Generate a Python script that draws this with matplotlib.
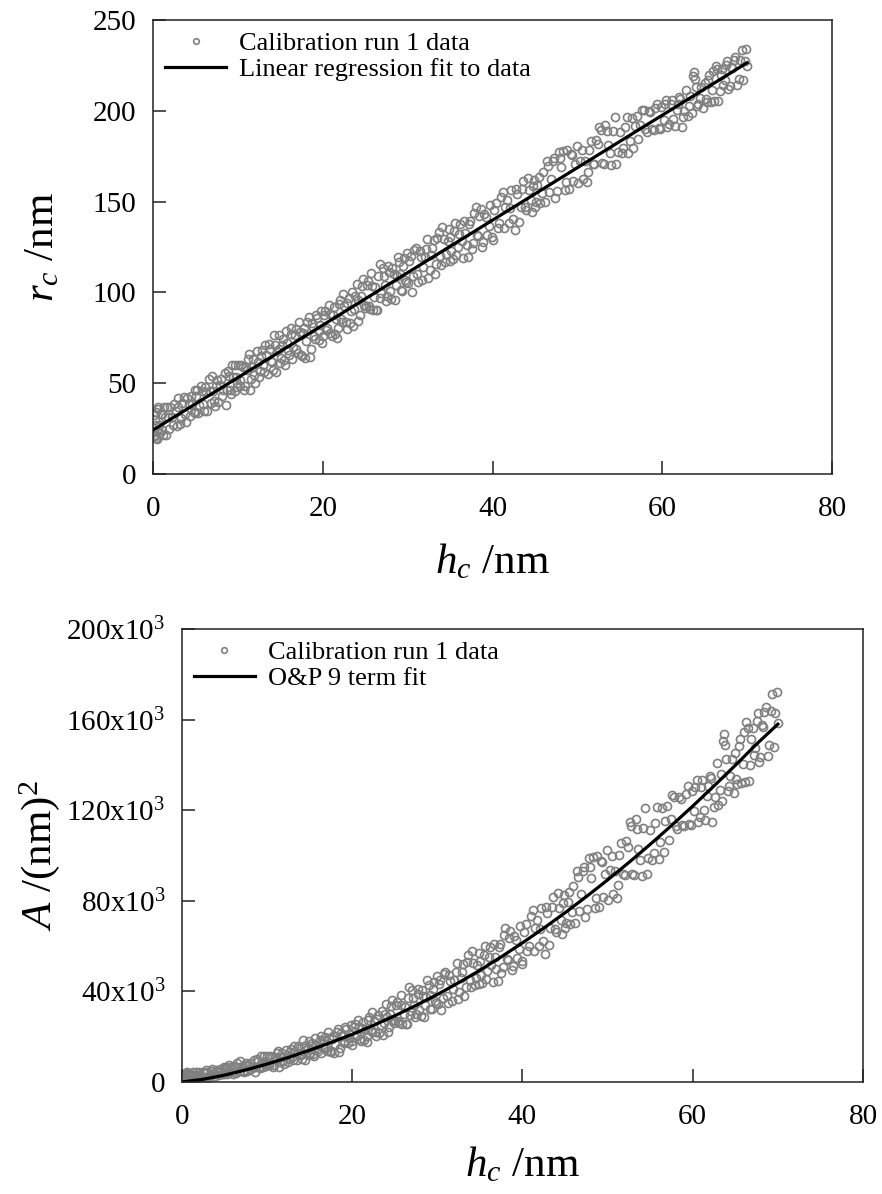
"""Calibration run 1: contact radius and contact area against contact depth."""

import matplotlib

matplotlib.use("Agg")
import matplotlib.pyplot as plt
import numpy as np

# contact depth h_c (nm) and contact radius r_c (nm)
h_c = [
    0.1, 0.2, 0.3, 0.4, 0.5, 0.6, 0.8, 1.0, 1.2, 1.4, 1.7, 1.9, 2.2, 2.5, 2.8, 3.0, 3.3, 3.6, 3.9, 4.2, 4.5, 4.8,
    5.1, 5.3, 5.6, 5.9, 6.1, 6.4, 6.7, 6.9, 7.2, 7.4, 7.7, 8.0, 8.3, 8.6, 8.8, 9.1, 9.3, 9.6, 9.8, 9.95,
    10.2, 10.4, 10.7, 10.9, 11.2, 11.4, 11.7, 11.9, 12.2, 12.5, 12.7, 13.0, 13.2, 13.5, 13.8, 14.0, 14.3, 14.5, 14.8, 14.95,
    15.2, 15.4, 15.7, 15.9, 16.2, 16.4, 16.7, 16.9, 17.2, 17.4, 17.7, 17.9, 18.2, 18.5, 18.7, 19.0, 19.2, 19.5, 19.7, 19.95,
    20.2, 20.4, 20.7, 20.9, 21.2, 21.4, 21.7, 21.9, 22.2, 22.4, 22.7, 22.9, 23.2, 23.5, 23.7, 24.0, 24.2, 24.5, 24.7, 24.95,
    25.2, 25.4, 25.7, 25.9, 26.2, 26.4, 26.7, 26.9, 27.2, 27.4, 27.7, 27.9, 28.2, 28.5, 28.7, 29.0, 29.2, 29.5, 29.7, 29.95,
    30.2, 30.5, 30.8, 31.1, 31.4, 31.7, 32.0, 32.3, 32.6, 32.9, 33.2, 33.5, 33.8, 34.1, 34.4, 34.7,
    35.0, 35.3, 35.6, 35.9, 36.2, 36.5, 36.8, 37.1, 37.4, 37.7, 38.0, 38.3, 38.6, 38.9, 39.2, 39.6,
    40.0, 40.4, 40.8, 41.2, 41.5, 41.9, 42.2, 42.6, 42.9, 43.3, 43.6, 44.0, 44.3, 44.7, 44.9,
    45.3, 45.6, 46.0, 46.4, 46.7, 47.1, 47.4, 47.8, 48.1, 48.5, 48.8, 49.2, 49.5, 49.9,
    50.3, 50.7, 51.1, 51.4, 51.8, 52.2, 52.6, 52.9, 53.3, 53.6, 54.0, 54.4, 54.8,
    55.2, 55.6, 56.0, 56.4, 56.8, 57.2, 57.6, 58.0, 58.4, 58.8, 59.2, 59.6, 59.9,
    60.3, 60.6, 61.0, 61.3, 61.7, 62.0, 62.3, 62.6, 63.0, 63.3, 63.6, 63.8, 64.1, 64.4, 64.8,
    65.1, 65.4, 65.7, 66.0, 66.3, 66.6, 66.9, 67.2, 67.5, 67.8, 68.1, 68.4, 68.8, 69.2, 69.5, 69.85, 70.0,
    # second sweep of the band
    0.15, 0.25, 0.35, 0.45, 0.55, 0.7, 0.9, 1.1, 1.3, 1.55, 1.8, 2.05, 2.35, 2.65, 2.9, 3.15, 3.45, 3.75, 4.05, 4.35, 4.65, 4.95,
    5.0, 5.2, 5.45, 5.75, 6.0, 6.25, 6.55, 6.8, 7.05, 7.3, 7.55, 7.85, 8.15, 8.45, 8.7, 8.95, 9.2, 9.45, 9.7, 9.9,
    10.05, 10.3, 10.55, 10.8, 11.05, 11.3, 11.55, 11.8, 12.05, 12.35, 12.6, 12.85, 13.1, 13.35, 13.65, 13.9, 14.15, 14.4, 14.65, 14.9,
    15.05, 15.3, 15.55, 15.8, 16.05, 16.3, 16.55, 16.8, 17.05, 17.3, 17.55, 17.8, 18.05, 18.35, 18.6, 18.85, 19.1, 19.35, 19.6, 19.85,
    20.05, 20.3, 20.55, 20.8, 21.05, 21.3, 21.55, 21.8, 22.05, 22.3, 22.55, 22.8, 23.05, 23.35, 23.6, 23.85, 24.1, 24.35, 24.6, 24.85,
    25.05, 25.3, 25.55, 25.8, 26.05, 26.3, 26.55, 26.8, 27.05, 27.3, 27.55, 27.8, 28.05, 28.35, 28.6, 28.85, 29.1, 29.35, 29.6, 29.85,
    30.05, 30.35, 30.65, 30.95, 31.25, 31.55, 31.85, 32.15, 32.45, 32.75, 33.05, 33.35, 33.65, 33.95, 34.25, 34.55, 34.85, 34.95,
    35.15, 35.45, 35.75, 36.05, 36.35, 36.65, 36.95, 37.25, 37.55, 37.85, 38.15, 38.45, 38.75, 39.05, 39.35, 39.75, 39.9,
    40.2, 40.6, 41.0, 41.35, 41.7, 42.05, 42.4, 42.75, 43.1, 43.45, 43.8, 44.15, 44.5, 44.8, 45.0,
    45.15, 45.45, 45.8, 46.2, 46.55, 46.9, 47.25, 47.6, 47.95, 48.3, 48.65, 49.0, 49.35, 49.7,
    50.1, 50.5, 50.9, 51.25, 51.6, 52.0, 52.4, 52.75, 53.1, 53.45, 53.8, 54.2, 54.6,
    55.0, 55.4, 55.8, 56.2, 56.6, 57.0, 57.4, 57.8, 58.2, 58.6, 59.0, 59.4, 59.75,
    60.15, 60.45, 60.8, 61.15, 61.5, 61.85, 62.15, 62.45, 62.8, 63.15, 63.45, 63.7, 63.95, 64.25, 64.6,
    65.0, 65.25, 65.55, 65.85, 66.15, 66.45, 66.75, 67.05, 67.35, 67.65, 67.95, 68.25, 68.6, 69.0, 69.35, 69.7,
]
r_c = [
    21.5, 29.8, 20.1, 34.4, 23.6, 36.9, 22.5, 33.1, 21.7, 31.2, 37.1, 24.7, 31.6, 38.4, 26.3, 36.9, 30.7, 42.6, 28.5, 38.3, 43.2, 34.1,
    42.9, 33.5, 48.4, 38.3, 47.8, 34.7, 45.6, 54.1, 40.0, 48.6, 39.5, 52.3, 46.2, 38.1, 56.6, 46.5, 60.1, 45.9, 53.5, 49.9,
    48.7, 60.3, 46.1, 58.7, 63.6, 46.1, 59.0, 54.6, 67.5, 53.3, 64.9, 59.8, 71.3, 55.2, 69.1, 61.7, 76.5, 56.1, 69.0, 61.4,
    71.1, 62.7, 78.6, 68.2, 77.0, 63.6, 76.5, 69.0, 83.9, 65.5, 77.4, 63.9, 83.8, 64.7, 83.2, 76.1, 87.7, 73.6, 82.1, 71.9,
    87.6, 79.2, 93.0, 77.6, 87.5, 77.0, 74.9, 93.5, 85.4, 98.9, 83.8, 94.4, 83.2, 100.1, 90.7, 104.6, 84.1, 98.0, 107.6, 91.3,
    104.0, 92.6, 110.5, 90.1, 102.9, 90.5, 115.4, 99.9, 108.8, 95.4, 114.3, 100.8, 113.7, 95.6, 109.1, 117.0, 101.6, 114.5, 107.0, 121.8,
    117.5, 100.3, 123.2, 110.1, 122.9, 106.8, 119.7, 129.5, 112.4, 124.3, 110.1, 130.0, 119.9, 135.8, 116.6, 128.5,
    130.4, 118.2, 138.1, 125.0, 137.8, 118.7, 132.6, 119.4, 139.3, 127.2, 147.0, 130.9, 145.8, 127.6, 141.5, 136.6,
    128.8, 149.0, 138.1, 155.3, 147.1, 138.3, 156.2, 134.3, 154.2, 147.3, 161.2, 145.4, 156.2, 144.4, 162.0,
    159.1, 149.0, 166.1, 172.3, 155.2, 172.3, 152.2, 177.3, 169.2, 156.4, 178.2, 176.4, 161.3, 180.4,
    172.6, 162.7, 160.9, 178.7, 170.9, 184.1, 191.2, 171.1, 192.2, 181.1, 170.3, 196.4, 177.6,
    176.7, 190.9, 177.0, 196.2, 191.4, 184.5, 200.7, 189.8, 200.0, 190.1, 201.3, 190.4, 202.3,
    203.5, 191.3, 203.5, 195.4, 200.5, 207.4, 191.2, 200.1, 197.3, 208.1, 219.0, 217.6, 202.4, 207.3, 201.5,
    206.3, 217.2, 205.1, 221.9, 224.8, 205.7, 219.5, 214.4, 225.3, 212.1, 224.0, 227.9, 214.0, 228.2, 217.1, 234.1, 224.5,
    # second sweep of the band
    32.6, 20.9, 27.2, 19.5, 35.8, 27.2, 32.8, 24.4, 37.0, 21.7, 31.4, 37.1, 27.0, 34.9, 41.6, 27.3, 39.2, 33.0, 41.9, 31.8, 38.6, 46.5,
    33.7, 46.2, 38.0, 45.8, 34.5, 45.3, 52.1, 38.9, 45.6, 37.3, 52.0, 48.9, 42.8, 55.6, 46.3, 54.1, 43.8, 53.5, 60.2, 47.8,
    60.2, 52.0, 58.7, 48.4, 57.1, 65.9, 52.6, 63.3, 50.0, 61.9, 56.6, 68.3, 56.1, 65.8, 71.6, 62.4, 57.1, 70.8, 67.5, 76.3,
    63.7, 74.4, 60.1, 71.9, 65.6, 80.3, 70.0, 79.8, 66.5, 78.2, 64.9, 80.6, 73.4, 86.2, 69.0, 80.7, 74.4, 86.1, 78.8, 89.6,
    76.1, 89.9, 80.6, 88.3, 76.0, 91.8, 85.5, 80.2, 95.9, 83.6, 92.4, 80.1, 96.8, 89.7, 81.4, 98.1, 95.9, 87.6, 103.3, 93.0,
    92.6, 106.3, 91.0, 103.8, 97.5, 90.2, 108.9, 96.7, 113.4, 104.1, 97.8, 111.5, 96.3, 110.1, 103.9, 119.6, 110.3, 101.0, 118.7, 105.5,
    105.0, 119.9, 108.8, 124.6, 105.5, 119.4, 114.2, 124.1, 108.0, 120.8, 128.7, 115.6, 133.4, 115.3, 129.2, 121.1, 134.9, 117.2,
    122.8, 133.7, 120.5, 132.4, 128.3, 139.1, 126.0, 137.9, 123.7, 143.6, 131.5, 142.3, 125.2, 143.1, 131.9, 148.1, 130.5,
    145.4, 135.5, 152.7, 135.7, 150.7, 146.7, 140.7, 156.7, 138.8, 156.8, 146.8, 162.8, 150.8, 158.7, 147.3,
    149.7, 163.6, 154.6, 149.7, 169.7, 162.7, 173.8, 155.8, 173.8, 177.8, 160.8, 156.8, 175.8, 170.8,
    160.0, 178.2, 172.3, 166.3, 183.3, 170.5, 181.6, 189.6, 170.7, 188.7, 176.7, 188.8, 171.0,
    188.2, 179.3, 196.5, 183.6, 179.8, 196.9, 192.1, 200.2, 188.4, 199.6, 189.7, 203.9, 189.9,
    195.0, 205.9, 192.9, 205.9, 191.9, 203.9, 206.8, 196.7, 211.7, 202.7, 198.6, 221.3, 213.0, 203.9, 212.9,
    215.1, 204.8, 219.6, 211.5, 205.4, 223.2, 211.1, 223.0, 216.8, 227.7, 213.6, 223.4, 229.5, 217.6, 233.6, 227.6,
]

# linear regression line, read at its two ends
fit_h = [0.0, 70.0]
fit_r = [24.2, 226.5]

# O&P 9 term area function (values in (nm)^2)
op_h = [0, 2.5, 5, 7.5, 10, 12.5, 15, 17.5, 20, 22.5, 25, 27.5, 30, 32.5, 35,
        37.5, 40, 42.5, 45, 47.5, 50, 52.5, 55, 57.5, 60, 62.5, 65, 67.5, 70]
op_area = [0, 1200, 3000, 5300, 7900, 10800, 14000, 17400, 21000, 25000, 29200, 33800,
           38600, 43800, 49300, 55200, 61400, 67900, 74700, 81800, 89200, 96900,
           104900, 113200, 121800, 130700, 139800, 149200, 158000]

x_ticks = [0, 20, 40, 60, 80]
r_ticks = [0, 50, 100, 150, 200, 250]
area_ticks = [0, 40, 80, 120, 160, 200]  # in units of 10^3

# projected contact area of the same run, A = pi r_c^2
area = np.pi * np.asarray(r_c) ** 2

plt.rcParams["font.family"] = ["Liberation Serif", "DejaVu Serif"]
plt.rcParams["mathtext.fontset"] = "custom"
plt.rcParams["mathtext.rm"] = "Liberation Serif"
plt.rcParams["mathtext.it"] = "Liberation Serif:italic"

GREY = "#808080"
TICK_SIZE = 21
LABEL_SIZE = 31
LEGEND_SIZE = 19


def style_axes(ax):
    for side in ["top", "right", "left", "bottom"]:
        ax.spines[side].set_linewidth(1.1)
        ax.spines[side].set_color("#222222")
    ax.tick_params(direction="in", length=9.5, width=1.1, labelsize=TICK_SIZE,
                   top=False, right=False, pad=12, colors="#222222", labelcolor="black")
    ax.tick_params(axis="x", pad=16)


fig = plt.figure(figsize=(8.82, 11.94), dpi=100)

# top panel: contact radius
ax1 = fig.add_axes([0.1735, 0.6030, 0.7698, 0.3802])
ax1.plot(h_c, r_c, linestyle="none", marker="o", ms=5.8, mfc="none", mec=GREY, mew=1.2,
         label="Calibration run 1 data")
ax1.plot(fit_h, fit_r, color="black", lw=2.3, label="Linear regression fit to data")
ax1.set_xlim(0, 80)
ax1.set_ylim(0, 250)
ax1.set_xticks(x_ticks)
ax1.set_yticks(r_ticks)
style_axes(ax1)
ax1.set_xlabel(r"$h_c$ /nm", fontsize=LABEL_SIZE)
ax1.set_ylabel(r"$r_c$ /nm", fontsize=LABEL_SIZE)
ax1.xaxis.set_label_coords(0.5, -0.150)
ax1.yaxis.set_label_coords(-0.134, 0.5)
ax1.legend(loc="upper left", bbox_to_anchor=(0.018, 0.975), frameon=False,
           fontsize=LEGEND_SIZE, handlelength=2.3, handletextpad=0.5,
           labelspacing=0.1, borderpad=0, borderaxespad=0, markerscale=0.7)

# bottom panel: contact area
ax2 = fig.add_axes([0.2060, 0.0938, 0.7725, 0.3794])
ax2.plot(h_c, area, linestyle="none", marker="o", ms=5.8, mfc="none", mec=GREY, mew=1.2,
         label="Calibration run 1 data")
ax2.plot(op_h, op_area, color="black", lw=2.3, label="O&P 9 term fit")
ax2.set_xlim(0, 80)
ax2.set_ylim(0, 200000)
ax2.set_xticks(x_ticks)
ax2.set_yticks([v * 1000 for v in area_ticks])
ax2.set_yticklabels(["0" if v == 0 else f"{v}x10$^{{3}}$" for v in area_ticks])
style_axes(ax2)
ax2.set_xlabel(r"$h_c$ /nm", fontsize=LABEL_SIZE)
ax2.set_ylabel(r"$A$ /(nm)$^2$", fontsize=LABEL_SIZE)
ax2.xaxis.set_label_coords(0.5, -0.140)
ax2.yaxis.set_label_coords(-0.1757, 0.5)
ax2.legend(loc="upper left", bbox_to_anchor=(0.018, 0.975), frameon=False,
           fontsize=LEGEND_SIZE, handlelength=2.3, handletextpad=0.5,
           labelspacing=0.1, borderpad=0, borderaxespad=0, markerscale=0.7)

fig.savefig("out.png", dpi=100)
plt.close(fig)
